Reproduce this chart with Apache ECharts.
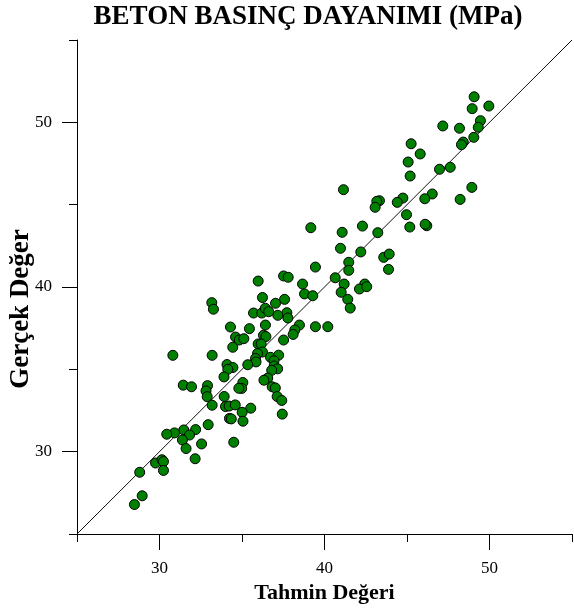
<!DOCTYPE html>
<html>
<head>
<meta charset="utf-8">
<script src="https://cdn.jsdelivr.net/npm/echarts@6/dist/echarts.min.js"></script>
<style>
html,body{margin:0;padding:0;background:#fff;}
#chart{width:574px;height:612px;}
</style>
</head>
<body>
<div id="chart"></div>
<script>
const titleText = 'BETON BASINÇ DAYANIMI (MPa)';
const xName = 'Tahmin Değeri';
const yName = 'Gerçek Değer';
const axisRange = [25, 55];
const majorTicks = [30, 40, 50];
const minorTicks = [25, 35, 45, 55];

const tahmin = [
49.07,49.96,48.95,49.45,49.32,47.17,48.18,49.05,48.41,48.30,
45.25,45.80,45.07,45.19,46.97,47.62,48.93,48.22,46.53,46.08,
44.75,44.41,43.33,43.17,43.07,44.97,41.15,39.17,41.07,42.30,
43.23,45.17,46.20,46.10,40.97,42.20,43.59,43.92,43.88,41.47,
41.47,39.45,40.65,41.19,38.67,38.79,39.29,41.01,41.41,41.56,
42.44,42.12,42.56,38.48,39.45,40.20,37.52,37.80,37.58,37.03,
37.72,37.17,37.78,38.20,38.10,37.52,
35.98,36.24,33.17,33.27,35.70,36.20,36.41,36.62,34.30,35.45,
34.61,34.83,35.11,34.44,36.42,36.30,36.45,35.98,36.16,36.24,
35.94,35.82,35.85,36.73,37.22,36.94,36.95,37.16,36.80,33.19,
30.81,35.35,34.09,34.45,34.14,33.91,36.56,36.33,36.83,37.02,
37.13,37.41,37.44,35.05,34.98,34.81,32.91,32.82,32.89,31.44,
31.94,33.92,33.19,34.00,34.22,34.59,35.53,35.01,35.06,34.24,
34.35,32.95,32.19,31.47,30.91,30.44,31.82,31.39,31.61,32.55,
34.50,32.16,29.76,30.15,30.24,30.24,28.80,28.95,28.48
];
const gercek = [
51.55,50.99,50.83,50.10,49.70,49.78,49.64,49.09,48.80,48.64,
48.70,48.08,47.59,46.74,47.15,47.27,46.05,45.32,45.65,45.36,
45.40,45.14,45.24,45.20,44.84,44.39,45.91,43.60,43.32,43.70,
43.30,43.64,43.72,43.81,42.35,42.13,41.80,42.00,41.07,41.50,
41.01,41.21,40.56,40.18,40.18,39.58,39.47,39.68,39.25,38.72,
40.18,39.88,40.02,37.69,37.59,37.59,40.67,40.59,39.25,39.01,
38.44,38.28,38.12,37.39,37.12,36.78,
40.36,39.36,39.05,38.65,38.42,38.42,38.71,38.50,37.57,37.47,
36.96,36.78,36.86,36.34,37.69,37.07,36.99,36.54,36.54,36.05,
35.96,35.66,35.45,35.73,35.86,35.52,35.20,35.03,34.94,35.85,
35.85,35.28,35.29,35.11,35.00,34.54,34.47,34.34,33.94,33.87,
33.35,33.11,32.28,34.20,33.84,33.85,34.01,33.69,33.34,34.04,
33.94,33.35,32.82,32.74,32.77,32.84,32.64,32.39,31.85,32.02,
31.99,31.64,31.34,31.32,31.14,31.06,31.01,30.71,30.19,30.47,
30.57,29.57,29.31,29.51,29.40,28.86,28.75,27.32,26.79
];

const FONT = '"Liberation Serif", "Times New Roman", serif';
const points = tahmin.map((v, i) => [v, gercek[i]]);
const diag = axisRange.map(v => [v, v]);

function makeAxis(extra) {
  return Object.assign({
    type: 'value', min: axisRange[0], max: axisRange[1], interval: 5,
    splitLine: {show: false}
  }, extra);
}

const chart = echarts.init(document.getElementById('chart'), null, {renderer: 'canvas'});
chart.setOption({
  animation: false,
  backgroundColor: '#fff',
  grid: {left: 77, right: 2, top: 40, bottom: 78},
  xAxis: [
    makeAxis({
      position: 'bottom',
      axisLine: {show: true, lineStyle: {color: '#000', width: 1}},
      axisTick: {show: true, customValues: majorTicks, length: 16, lineStyle: {color: '#000'}},
      axisLabel: {customValues: majorTicks, margin: 26, fontFamily: FONT, fontSize: 17, color: '#000'},
      name: xName, nameLocation: 'middle', nameGap: 47,
      nameTextStyle: {fontFamily: FONT, fontSize: 22, fontWeight: 'bold', color: '#000'}
    }),
    makeAxis({
      position: 'bottom',
      axisLine: {show: false},
      axisTick: {show: true, customValues: minorTicks, length: 8, lineStyle: {color: '#000'}},
      axisLabel: {show: false}
    })
  ],
  yAxis: [
    makeAxis({
      position: 'left',
      axisLine: {show: true, lineStyle: {color: '#000', width: 1}},
      axisTick: {show: true, customValues: majorTicks, length: 15, lineStyle: {color: '#000'}},
      axisLabel: {customValues: majorTicks, margin: 25, fontFamily: FONT, fontSize: 17, color: '#000'}
    }),
    makeAxis({
      position: 'left',
      axisLine: {show: false},
      axisTick: {show: true, customValues: minorTicks, length: 8, lineStyle: {color: '#000'}},
      axisLabel: {show: false}
    })
  ],
  graphic: [
    {type: 'text', x: 308, y: 17, style: {text: titleText, font: 'bold 27px ' + FONT, fill: '#000', align: 'center', verticalAlign: 'middle'}},
    {type: 'text', x: 21, y: 309, rotation: Math.PI / 2, style: {text: yName, font: 'bold 27px ' + FONT, fill: '#000', align: 'center', verticalAlign: 'middle'}}
  ],
  series: [
    {
      type: 'line', xAxisIndex: 0, yAxisIndex: 0, data: diag, showSymbol: false, symbol: 'none',
      lineStyle: {color: '#111', width: 1}, z: 1, silent: true
    },
    {
      type: 'scatter', xAxisIndex: 0, yAxisIndex: 0, data: points, symbol: 'circle', symbolSize: 10,
      itemStyle: {color: '#008000', borderColor: '#000', borderWidth: 1, opacity: 1}, z: 2
    }
  ]
});
</script>
</body>
</html>
